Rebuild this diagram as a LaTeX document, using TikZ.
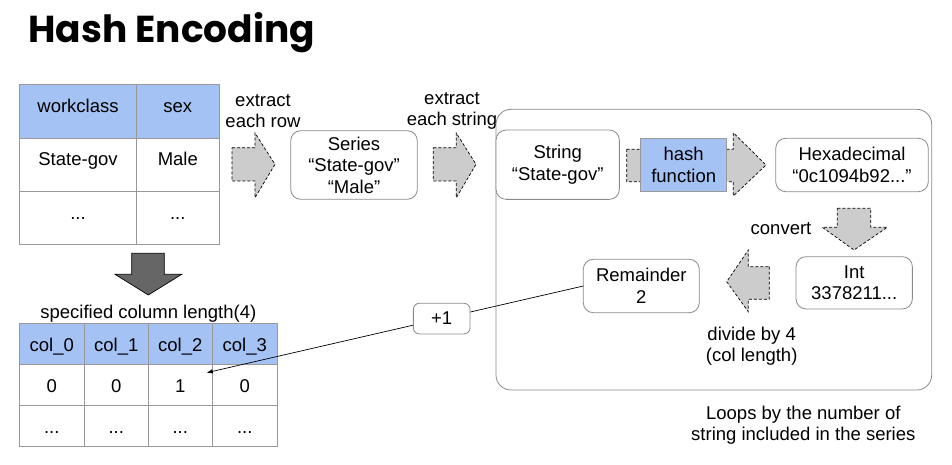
\documentclass[tikz,border=0pt]{standalone}
\usepackage{fontspec}
\setmainfont{Liberation Sans}
\newfontfamily\titlefnt{Poppins}
\usetikzlibrary{arrows.meta}
\definecolor{hdrblue}{HTML}{A4C2F4}
\definecolor{arrgray}{HTML}{CCCCCC}
\definecolor{darkarr}{HTML}{666666}
\definecolor{gridgray}{HTML}{999999}
\definecolor{boxgray}{HTML}{8A8A8A}
\newcommand\mfont{\fontsize{18.5}{21.5}\selectfont}
\begin{document}
\begin{tikzpicture}[x=1pt,y=-1pt,
  every node/.style={font=\mfont, inner sep=0pt, outer sep=0pt},
  txt/.style={align=center},
  cell/.style={anchor=base},
  rbox/.style={draw=boxgray, line width=0.8pt, rounded corners=10pt, fill=white, align=center},
  blockarr/.style={draw=black, fill=arrgray, line width=0.7pt, dash pattern=on 3pt off 2pt},
  tabgrid/.style={draw=gridgray, line width=0.8pt},
  link/.style={draw=black, line width=0.7pt, -{Latex[length=6pt,width=4.5pt]}},
  plusbox/.style={draw=boxgray, line width=0.8pt, rounded corners=6pt, fill=white, minimum width=56.7pt, minimum height=30.6pt}
]
\useasboundingbox (0,0) rectangle (952,465);

% title
\node[anchor=base west, font=\titlefnt\bfseries\fontsize{37.5}{40}\selectfont] (title) at (28.5,42.7) {Hash Encoding};

% ---- table 1
\fill[hdrblue] (19.3,84) rectangle (219,138.3);
\draw[tabgrid] (19.3,84) rectangle (219,244);
\draw[tabgrid] (19.3,138.3) -- (219,138.3) (19.3,191) -- (219,191) (136.7,84) -- (136.7,244);
\node[cell] (t1a) at (78,112.7) {workclass};
\node[cell] (t1b) at (177.8,112.7) {sex};
\node[cell] (t1c) at (78,165) {State-gov};
\node[cell] (t1d) at (177.8,165) {Male};
\node[cell] (t1e) at (78,219) {...};
\node[cell] (t1f) at (177.8,219) {...};

% extract each row
\node[txt] (lab1) at (263,111) {extract\\each row};
\draw[blockarr] (232,147.7) -- (255,147.7) -- (255,133) -- (275,164.3) -- (255,197.7) -- (255,181) -- (232,181) -- cycle;

% series box
\node[rbox, minimum width=126.6pt, minimum height=68.6pt] (series) at (354,165) {Series\\“State-gov”\\“Male”};

% extract each string
\node[txt] (lab2) at (452,111) {extract\\each string};
\draw[blockarr] (433.3,147.7) -- (456.3,147.7) -- (456.3,133) -- (476,164.3) -- (456.3,197.7) -- (456.3,181) -- (433.3,181) -- cycle;

% container
\draw[draw=boxgray, line width=0.8pt, rounded corners=15pt] (496,109.3) rectangle (931.7,390);

% string box
\node[rbox, minimum width=123.3pt, minimum height=69.3pt] (string) at (557.7,164.7) {String\\“State-gov”};

% hash arrow + function
\draw[blockarr] (626.7,149.3) -- (733.3,149.3) -- (733.3,132.7) -- (766,165) -- (733.3,196) -- (733.3,181.7) -- (626.7,181.7) -- cycle;
\node[draw=black!40, line width=0.6pt, fill=hdrblue, align=center, minimum width=86pt, minimum height=53.4pt] (hash) at (683.7,165) {hash\\function};

% hexadecimal
\node[rbox, minimum width=152.6pt, minimum height=53.4pt] (hex) at (852,165) {Hexadecimal\\“0c1094b92...”};

% convert arrow
\draw[blockarr] (837.3,208.3) -- (870.7,208.3) -- (870.7,227.3) -- (887.3,227.3) -- (854,250) -- (822.3,227.3) -- (837.3,227.3) -- cycle;
\node[anchor=base] (lab3) at (781,234) {convert};

% int box
\node[rbox, minimum width=116.3pt, minimum height=52.3pt] (int) at (854.2,282.8) {Int\\3378211...};

% divide arrow
\draw[blockarr] (769.3,266.7) -- (769.3,299.3) -- (748.3,299.3) -- (748.3,311.7) -- (726.7,281.7) -- (748.3,250) -- (748.3,266.7) -- cycle;
\node[txt] (lab4) at (751.7,346) {divide by 4\\(col length)};

% remainder
\node[rbox, minimum width=116pt, minimum height=53.4pt] (rem) at (641.3,286) {Remainder\\2};

% loops label
\node[txt] (lab5) at (803.3,425) {Loops by the number of\\string included in the series};

% down arrow
\draw[draw=black, fill=darkarr, line width=0.7pt] (131.7,253.3) -- (164.3,253.3) -- (164.3,274.3) -- (181.7,274.3) -- (148.3,295) -- (115,274.3) -- (131.7,274.3) -- cycle;
\node[anchor=base] (lab6) at (148.3,318.3) {specified column length(4)};

% ---- table 2
\fill[hdrblue] (19.3,323.3) rectangle (277.3,364.3);
\draw[tabgrid] (19.3,323.3) rectangle (277.3,446.7);
\draw[tabgrid] (19.3,364.3) -- (277.3,364.3) (19.3,405) -- (277.3,405)
  (84.3,323.3) -- (84.3,446.7) (148.3,323.3) -- (148.3,446.7) (212.3,323.3) -- (212.3,446.7);
\node[cell] (h0) at (51.8,351.5) {col\_0};
\node[cell] (h1) at (116.3,351.5) {col\_1};
\node[cell] (h2) at (180.3,351.5) {col\_2};
\node[cell] (h3) at (244.8,351.5) {col\_3};
\node[cell] (v0) at (51.8,392) {0};
\node[cell] (v1) at (116.3,392) {0};
\node[cell] (v2) at (180.3,392) {1};
\node[cell] (v3) at (244.8,392) {0};
\node[cell] (d0) at (51.8,433.3) {...};
\node[cell] (d1) at (116.3,433.3) {...};
\node[cell] (d2) at (180.3,433.3) {...};
\node[cell] (d3) at (244.8,433.3) {...};

% link
\coordinate (tgt) at (206.7,372.7);
\draw[link] (rem.west) -- node[pos=0.376, plusbox] (plus) {+1} (tgt);
\end{tikzpicture}
\end{document}
